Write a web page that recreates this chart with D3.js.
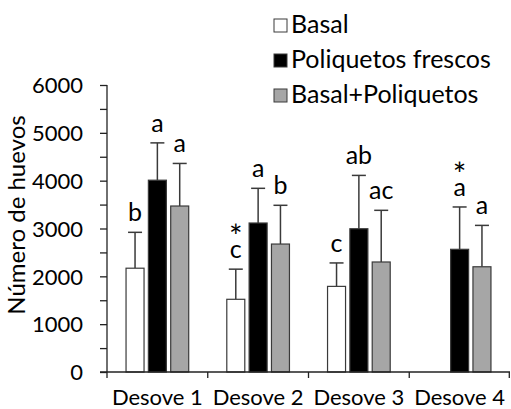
<!DOCTYPE html>
<html>
<head>
<meta charset="utf-8">
<script src="https://cdn.jsdelivr.net/npm/d3@7"></script>
<style>
  html, body { margin: 0; padding: 0; background: #fff; }
  svg text { font-family: Lato, "Open Sans", sans-serif; fill: #000; }
</style>
</head>
<body>
<svg id="chart" width="511" height="409"></svg>
<script>
// categories and series
var categories = ["Desove 1", "Desove 2", "Desove 3", "Desove 4"];
var seriesNames = ["Basal", "Poliquetos frescos", "Basal+Poliquetos"];
// means (null = no data)
var basal = [2170, 1520, 1790, null];
var frescos = [4010, 3115, 2995, 2565];
var basalPoli = [3470, 2675, 2300, 2200];
// error bars (upper only)
var basalErr = [750, 630, 490, null];
var frescosErr = [780, 725, 1115, 885];
var basalPoliErr = [890, 810, 1080, 865];
// significance letters
var basalLetters = ["b", "c", "c", ""];
var frescosLetters = ["a", "a", "ab", "a"];
var basalPoliLetters = ["a", "b", "ac", "a"];
// asterisks
var basalStar = [false, true, false, false];
var frescosStar = [false, false, false, true];
var basalPoliStar = [false, false, false, false];
// y ticks
var yTicks = [0, 500, 1000, 1500, 2000, 2500, 3000, 3500, 4000, 4500, 5000, 5500, 6000];

var colors = ["#ffffff", "#000000", "#a6a6a6"];

var svg = d3.select("#chart");

var x = d3.scaleBand().domain(categories).range([107, 510]);
var xInner = d3.scaleBand().domain(seriesNames).range([-33.5, 33.5]);
var y = d3.scaleLinear().domain([0, 6000]).range([372, 85]);
var barW = 18;

// build rows
var allVals = [basal, frescos, basalPoli];
var allErr = [basalErr, frescosErr, basalPoliErr];
var allLet = [basalLetters, frescosLetters, basalPoliLetters];
var allStar = [basalStar, frescosStar, basalPoliStar];
var rows = [];
seriesNames.forEach(function(s, si) {
  categories.forEach(function(c, ci) {
    if (allVals[si][ci] == null) return;
    rows.push({cat: c, series: s, si: si, value: allVals[si][ci], err: allErr[si][ci],
      letter: allLet[si][ci], star: allStar[si][ci]});
  });
});

function cx(d) { return x(d.cat) + x.bandwidth() / 2 + xInner(d.series) + xInner.bandwidth() / 2; }

// error bars (behind bars)
var eb = svg.append("g").attr("stroke", "#3a3a3a").attr("stroke-width", 1.5);
eb.selectAll("line.v").data(rows).enter().append("line")
  .attr("x1", cx).attr("x2", cx)
  .attr("y1", function(d) { return y(d.value); })
  .attr("y2", function(d) { return y(d.value + d.err); });
eb.selectAll("line.c").data(rows).enter().append("line")
  .attr("x1", function(d) { return cx(d) - 7; }).attr("x2", function(d) { return cx(d) + 7; })
  .attr("y1", function(d) { return y(d.value + d.err); })
  .attr("y2", function(d) { return y(d.value + d.err); });

// bars
svg.append("g").selectAll("rect").data(rows).enter().append("rect")
  .attr("x", function(d) { return cx(d) - barW / 2; })
  .attr("y", function(d) { return y(d.value); })
  .attr("width", barW)
  .attr("height", function(d) { return y(0) - y(d.value); })
  .attr("fill", function(d) { return colors[d.si]; })
  .attr("stroke", "#3a3a3a")
  .attr("stroke-width", 1.2);

// letters (asterisk, if any, as a tspan on the line above)
var lab = svg.append("g").selectAll("text").data(rows).enter().append("text")
  .attr("text-anchor", "middle")
  .style("font-size", "25px");
lab.filter(function(d) { return d.star; }).append("tspan")
  .attr("x", cx)
  .attr("y", function(d) { return y(d.value + d.err) - 21; })
  .style("font-size", "32px")
  .text("*");
lab.append("tspan")
  .attr("x", cx)
  .attr("y", function(d) { return y(d.value + d.err) - 11; })
  .text(function(d) { return d.letter; });

// y axis
var yAxis = d3.axisLeft(y).tickValues(yTicks).tickSize(7).tickPadding(17)
  .tickFormat(function(d) { return d % 1000 === 0 ? d : ""; });
var gy = svg.append("g").attr("transform", "translate(107,0)").call(yAxis);
gy.selectAll("text").style("font-size", "22px").attr("dy", "0.35em");
gy.selectAll("line, path").attr("stroke", "#222").attr("stroke-width", 1.3);
gy.select(".domain").attr("d", "M0," + y(6000) + "V" + y(0));

// x axis
var gx = svg.append("g");
gx.append("line").attr("x1", 100).attr("x2", 510).attr("y1", y(0)).attr("y2", y(0))
  .attr("stroke", "#222").attr("stroke-width", 1.3);
var bounds = categories.map(function(c) { return x(c); }).concat([x.range()[1] - 0.7]);
gx.selectAll("line.t").data(bounds).enter().append("line")
  .attr("x1", function(d) { return d; }).attr("x2", function(d) { return d; })
  .attr("y1", y(0)).attr("y2", y(0) + 6)
  .attr("stroke", "#222").attr("stroke-width", 1.3);
gx.selectAll("text").data(categories).enter().append("text")
  .attr("x", function(d) { return x(d) + x.bandwidth() / 2; })
  .attr("y", 405)
  .attr("text-anchor", "middle")
  .style("font-size", "22px")
  .text(function(d) { return d; });

// y title
svg.append("text")
  .attr("transform", "translate(25,215) rotate(-90)")
  .attr("text-anchor", "middle")
  .style("font-size", "24px")
  .text("Número de huevos");

// legend
var leg = svg.append("g").selectAll("g").data(seriesNames).enter().append("g")
  .attr("transform", function(d, i) { return "translate(274," + (33 + i * 35) + ")"; });
leg.append("rect").attr("x", 0).attr("y", -14).attr("width", 13).attr("height", 13)
  .attr("fill", function(d, i) { return colors[i]; })
  .attr("stroke", "#3a3a3a").attr("stroke-width", 1);
leg.append("text").attr("x", 17).attr("y", 0)
  .style("font-size", "25px")
  .text(function(d) { return d; });
</script>
</body>
</html>
